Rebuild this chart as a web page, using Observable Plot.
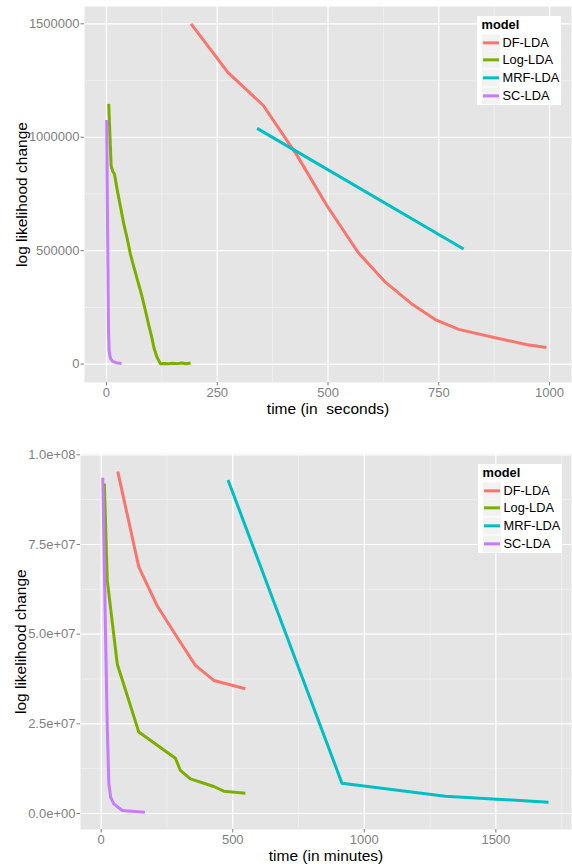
<!DOCTYPE html>
<html><head><meta charset="utf-8">
<script src="https://cdn.jsdelivr.net/npm/d3@7"></script>
<script src="https://cdn.jsdelivr.net/npm/@observablehq/plot@0.6"></script>
<style>
body{margin:0;background:#fff;}
#wrap{position:relative;width:572px;height:864px;font-family:"Liberation Sans",Arial,sans-serif;}
.panel{position:absolute;left:0;}
.legend{position:absolute;background:#fff;box-sizing:border-box;}
.ltitle{position:absolute;left:4.5px;font-weight:bold;font-size:12.8px;line-height:1;transform:translateY(-50%);}
.lkey{position:absolute;left:4.5px;width:18.5px;height:17.3px;background:#f2f2f2;transform:translateY(-50%);}
.lkey span{position:absolute;left:1.5px;right:1.5px;top:50%;height:3px;margin-top:-1.5px;}
.llab{position:absolute;left:25.5px;font-size:12.8px;line-height:1;transform:translateY(-50%);}
</style></head><body><div id="wrap"></div>
<script>
const models = ["DF-LDA", "Log-LDA", "MRF-LDA", "SC-LDA"];
const colors = ["#F8766D", "#7CAE00", "#00BFC4", "#C77CFF"];

// ---- Top panel: time in seconds ----
const secDF_t  = [191, 274, 354, 430, 497, 568, 630, 689, 742, 795, 875, 950, 993];
const secDF_v  = [1500000, 1286000, 1140000, 920000, 700000, 492000, 360000, 265000, 196000, 153000, 117000, 85000, 73000];
const secLog_t = [5, 6, 10.5, 14, 18, 25, 32, 39, 46, 54, 62, 70, 80, 88, 95, 102, 107, 114, 122, 130, 140, 150, 160, 170, 180, 190];
const secLog_v = [1147000, 1100000, 875000, 850000, 838000, 760000, 690000, 618000, 560000, 485000, 426000, 370000, 300000, 235000, 175000, 120000, 73000, 30000, 1000, 3000, 1000, 4000, 2000, 5000, 1500, 4500];
const secMRF_t = [340, 806];
const secMRF_v = [1039000, 507000];
const secSC_t  = [0.5, 2.5, 4.5, 6, 9, 14, 22, 34];
const secSC_v  = [1076000, 600000, 150000, 60000, 25000, 12000, 6000, 3000];

// ---- Bottom panel: time in minutes ----
const minDF_t  = [63, 143, 212, 288, 358, 428, 548];
const minDF_v  = [9.53e7, 6.87e7, 5.80e7, 4.92e7, 4.13e7, 3.71e7, 3.48e7];
const minLog_t = [12, 23, 61, 143, 282, 301, 339, 428, 466, 548];
const minLog_v = [9.2e7, 6.5e7, 4.17e7, 2.27e7, 1.54e7, 1.20e7, 9.66e6, 7.53e6, 6.23e6, 5.67e6];
const minMRF_t = [482, 915, 1308, 1700];
const minMRF_v = [9.30e7, 8.45e6, 4.83e6, 3.15e6];
const minSC_t  = [6, 16, 23, 29, 36, 48, 80, 166];
const minSC_v  = [9.36e7, 5.19e7, 2.41e7, 8.3e6, 4.5e6, 2.7e6, 0.84e6, 0.36e6];

// tick values
const secXMajor = [0, 250, 500, 750, 1000];
const secXMinor = [125, 375, 625, 875];
const secYMajor = [0, 500000, 1000000, 1500000];
const secYMinor = [250000, 750000, 1250000];
const minXMajor = [0, 500, 1000, 1500];
const minXMinor = [250, 750, 1250, 1750];
const minYMajor = [0, 2.5e7, 5e7, 7.5e7, 1e8];
const minYMinor = [1.25e7, 3.75e7, 6.25e7, 8.75e7];

function rows(series) {
  const out = [];
  series.forEach(([t, v], i) => t.forEach((tt, j) => out.push({model: models[i], t: tt, v: v[j]})));
  return out;
}
const secData = rows([[secDF_t, secDF_v], [secLog_t, secLog_v], [secMRF_t, secMRF_v], [secSC_t, secSC_v]]);
const minData = rows([[minDF_t, minDF_v], [minLog_t, minLog_v], [minMRF_t, minMRF_v], [minSC_t, minSC_v]]);

const sciFmt = d => {
  const [m, e] = d.toExponential(1).split("e");
  const sign = e[0] === "-" ? "-" : "+";
  const num = e.replace(/^[+-]/, "").padStart(2, "0");
  return m + "e" + sign + num;
};

const FONT = '"Liberation Sans", Arial, sans-serif';

function panel(o) {
  return Plot.plot({
    width: 572, height: o.height,
    marginTop: o.mt, marginBottom: o.mb, marginLeft: o.ml, marginRight: 1,
    x: {domain: o.xd},
    y: {domain: o.yd},
    color: {domain: models, range: colors},
    style: {fontFamily: FONT, background: "transparent", overflow: "visible"},
    marks: [
      Plot.frame({fill: "#e5e5e5", stroke: null}),
      Plot.gridX(o.xMinor, {stroke: "#f2f2f2", strokeOpacity: 1, strokeWidth: 0.7}),
      Plot.gridY(o.yMinor, {stroke: "#f2f2f2", strokeOpacity: 1, strokeWidth: 0.7}),
      Plot.gridX(o.xMajor, {stroke: "#ffffff", strokeOpacity: 1, strokeWidth: 1.2}),
      Plot.gridY(o.yMajor, {stroke: "#ffffff", strokeOpacity: 1, strokeWidth: 1.2}),
      Plot.axisX({ticks: o.xMajor, tickSize: 3.5, tickPadding: 2, color: "#7f7f7f", fontSize: 13, label: null, tickFormat: d => String(d)}),
      Plot.axisY({ticks: o.yMajor, tickSize: 3.5, tickPadding: 1.5, color: "#7f7f7f", fontSize: 13, label: null, tickFormat: o.yFmt}),
      Plot.line(o.data, {x: "t", y: "v", z: "model", stroke: "model", strokeWidth: 3, strokeLinejoin: "round", strokeLinecap: "butt"}),
      Plot.text([o.xLabel], {frameAnchor: "bottom", dy: o.xdy, textAnchor: "middle", lineAnchor: "middle", fontSize: 15.5, fill: "#000"}),
      Plot.text(["log likelihood change"], {frameAnchor: "left", dx: o.ydx, rotate: -90, textAnchor: "middle", lineAnchor: "middle", fontSize: 15.5, fill: "#000"})
    ]
  });
}

function legend(left, top) {
  const el = document.createElement("div");
  el.className = "legend";
  Object.assign(el.style, {left: left + "px", top: top + "px", width: "84px", height: "89px"});
  const t = document.createElement("div");
  t.className = "ltitle"; t.textContent = "model"; t.style.top = "9px";
  el.appendChild(t);
  models.forEach((m, i) => {
    const cy = 26.5 + i * 17.7;
    const k = document.createElement("div");
    k.className = "lkey"; k.style.top = cy + "px";
    const s = document.createElement("span"); s.style.background = colors[i];
    k.appendChild(s); el.appendChild(k);
    const l = document.createElement("div");
    l.className = "llab"; l.textContent = m; l.style.top = cy + "px";
    el.appendChild(l);
  });
  return el;
}

const wrap = document.getElementById("wrap");

const top1 = panel({
  data: secData, height: 430, mt: 6, mb: 48, ml: 84,
  xd: [-49.6, 1049.5], yd: [-81200, 1576300],
  xMajor: secXMajor, xMinor: secXMinor, yMajor: secYMajor, yMinor: secYMinor,
  yFmt: d => String(d), xLabel: "time (in  seconds)", xdy: 27, ydx: -62.5
});
top1.classList.add("panel"); top1.style.top = "0px";
wrap.appendChild(top1);
wrap.appendChild(legend(477, 16));

const bot = panel({
  data: minData, height: 434, mt: 23.3, mb: 35, ml: 80,
  xd: [-78.7, 1787.5], yd: [-4.46e6, 1.0028e8],
  xMajor: minXMajor, xMinor: minXMinor, yMajor: minYMajor, yMinor: minYMinor,
  yFmt: sciFmt, xLabel: "time (in minutes)", xdy: 26.5, ydx: -59
});
bot.classList.add("panel"); bot.style.top = "430px";
wrap.appendChild(bot);
wrap.appendChild(legend(478, 464));
</script></body></html>
